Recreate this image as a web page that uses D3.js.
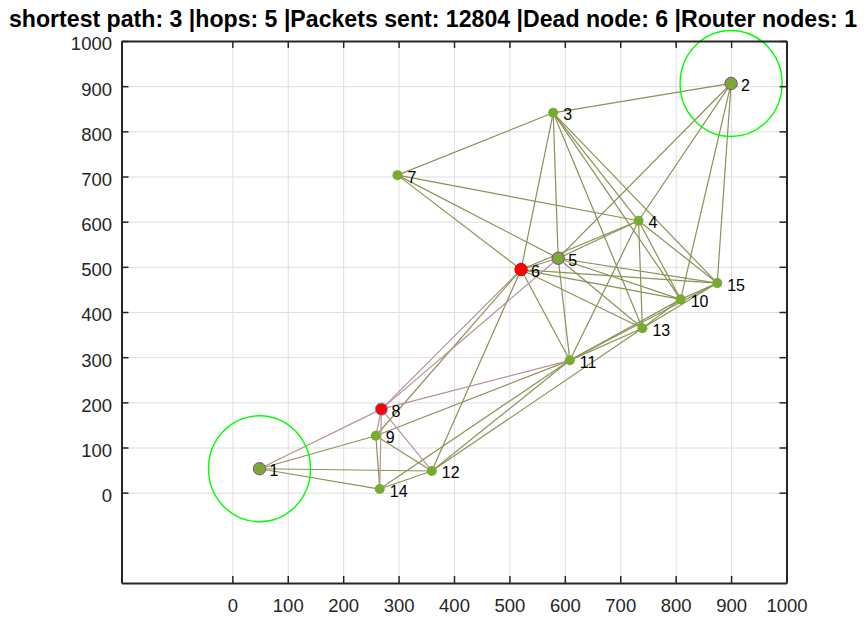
<!DOCTYPE html>
<html>
<head>
<meta charset="utf-8">
<script src="https://cdn.jsdelivr.net/npm/d3@7"></script>
<style>
    body { margin: 0; background: #fff; }
    text { font-family: "Liberation Sans", Arial, sans-serif; }
</style>
</head>
<body>
<div id="chart"></div>
<script>
// data
var nodeIds = [1, 2, 3, 4, 5, 6, 7, 8, 9, 10, 11, 12, 13, 14, 15];
var nodeX = [49, 900, 579, 733, 588, 521, 298, 269, 259, 809, 609, 360, 740, 266, 875];
var nodeY = [53, 906, 841, 602, 519, 494, 703, 185, 126, 428, 293, 48, 364, 8, 464];

// links between nodes (from, to)
var edgeFrom = [1, 1, 1, 1, 2, 2, 2, 2, 2, 3, 3, 3, 3, 3, 3, 3, 4, 4, 4, 4, 4, 4, 4,
                5, 5, 5, 5, 5, 5, 5, 6, 6, 6, 6, 6, 6, 6, 6, 8, 8, 8, 8, 9, 9, 9,
                10, 10, 10, 11, 11, 11, 11, 12, 12, 13];
var edgeTo   = [8, 9, 12, 14, 3, 4, 5, 10, 15, 4, 5, 6, 7, 10, 13, 15, 5, 6, 7, 10, 11, 13, 15,
                6, 7, 8, 10, 11, 13, 15, 7, 8, 9, 10, 11, 12, 13, 15, 9, 11, 12, 14, 11, 12, 14,
                11, 13, 15, 12, 13, 14, 15, 13, 14, 15];

var deadNodes = [6, 8];
var bigNodes = [1, 2, 5];
var ringNodes = [1, 2];

var xTicks = [0, 100, 200, 300, 400, 500, 600, 700, 800, 900, 1000];
var yTicks = [0, 100, 200, 300, 400, 500, 600, 700, 800, 900, 1000];

var titleText = 'shortest path: 3 |hops: 5 |Packets sent: 12804 |Dead node: 6 |Router nodes: 1';

// layout
var W = 867, H = 617;
var plotLeft = 121.5, plotRight = 786.5, plotTop = 41, plotBottom = 583;

var svg = d3.select('#chart')
    .append('svg')
        .attr('width', W)
        .attr('height', H);

svg.append('rect')
    .attr('width', W)
    .attr('height', H)
    .attr('fill', '#fff');

var x = d3.scaleLinear().domain([-200, 1000]).range([plotLeft, plotRight]);
var y = d3.scaleLinear().domain([-200, 1000]).range([plotBottom, plotTop]);

var pos = function(id) {
    var i = nodeIds.indexOf(id);
    return [x(nodeX[i]), y(nodeY[i])];
}

// grid
var grid = svg.append('g').attr('class', 'grid');

grid.append('g')
    .attr('transform', 'translate(0,' + plotBottom + ')')
    .call(d3.axisBottom(x).tickValues(xTicks).tickSize(-(plotBottom - plotTop)).tickFormat(''))
    .call(g => g.select('.domain').remove());

grid.append('g')
    .attr('transform', 'translate(' + plotLeft + ',0)')
    .call(d3.axisLeft(y).tickValues(yTicks).tickSize(-(plotRight - plotLeft)).tickFormat(''))
    .call(g => g.select('.domain').remove());

grid.selectAll('line')
    .attr('stroke', '#dedede')
    .attr('stroke-width', 1);

// edges
var edges = edgeFrom.map((f, i) => ({ a: f, b: edgeTo[i] }));
var isPath = d => d.a === 8 || d.b === 8;

svg.append('g')
    .selectAll('line')
    .data(edges.filter(d => !isPath(d)).concat(edges.filter(isPath)))
    .enter()
    .append('line')
        .attr('x1', d => pos(d.a)[0])
        .attr('y1', d => pos(d.a)[1])
        .attr('x2', d => pos(d.b)[0])
        .attr('y2', d => pos(d.b)[1])
        .attr('stroke', d => isPath(d) ? '#b39696' : '#8c9157')
        .attr('stroke-width', 1.2);

// range rings
svg.append('g')
    .selectAll('ellipse')
    .data(ringNodes)
    .enter()
    .append('ellipse')
        .attr('cx', d => pos(d)[0])
        .attr('cy', d => pos(d)[1])
        .attr('rx', 51)
        .attr('ry', 53)
        .attr('fill', 'none')
        .attr('stroke', '#00ff00')
        .attr('stroke-width', 1.4);

// nodes
svg.append('g')
    .selectAll('circle')
    .data(nodeIds)
    .enter()
    .append('circle')
        .attr('cx', d => pos(d)[0])
        .attr('cy', d => pos(d)[1])
        .attr('r', d => (bigNodes.includes(d) || deadNodes.includes(d)) ? 6.2 : 5)
        .attr('fill', d => deadNodes.includes(d) ? '#ff0000' : '#77ac30')
        .attr('stroke', d => d === 8 ? '#5fa8e0' : d === 6 ? '#e00000' : bigNodes.includes(d) ? '#8e3fa0' : 'none')
        .attr('stroke-width', 1);

// node labels
svg.append('g')
    .selectAll('text')
    .data(nodeIds)
    .enter()
    .append('text')
        .attr('x', d => pos(d)[0] + 10)
        .attr('y', d => pos(d)[1] + 2)
        .attr('dominant-baseline', 'central')
        .attr('font-size', '16px')
        .attr('fill', '#000')
        .text(d => d);

// axes (box with inner ticks)
var axisColor = '#262626';
var fmt = d3.format('d');

var xAxis = svg.append('g')
    .attr('transform', 'translate(0,' + plotBottom + ')')
    .call(d3.axisBottom(x).tickValues(xTicks).tickFormat(fmt).tickSizeInner(-7).tickSizeOuter(0).tickPadding(16));

var yAxis = svg.append('g')
    .attr('transform', 'translate(' + plotLeft + ',0)')
    .call(d3.axisLeft(y).tickValues(yTicks).tickFormat(fmt).tickSizeInner(-7).tickSizeOuter(0).tickPadding(9.5));

var xTop = svg.append('g')
    .attr('transform', 'translate(0,' + plotTop + ')')
    .call(d3.axisTop(x).tickValues(xTicks).tickSizeInner(-7).tickSizeOuter(0).tickFormat(''));

var yRight = svg.append('g')
    .attr('transform', 'translate(' + plotRight + ',0)')
    .call(d3.axisRight(y).tickValues(yTicks).tickSizeInner(-7).tickSizeOuter(0).tickFormat(''));

[xAxis, yAxis, xTop, yRight].forEach(g => {
    g.select('.domain').attr('stroke', axisColor).attr('stroke-width', 2);
    g.selectAll('.tick line').attr('stroke', axisColor).attr('stroke-width', 1.5);
    g.selectAll('text')
        .attr('fill', axisColor)
        .style('font-size', '18.5px')
        .style('font-family', '"Liberation Sans", Arial, sans-serif');
});

yAxis.selectAll('text').attr('dy', '0.48em');

// title
svg.append('text')
    .attr('x', 433)
    .attr('y', 27)
    .attr('text-anchor', 'middle')
    .attr('font-size', '23px')
    .attr('font-weight', 'bold')
    .attr('fill', '#000')
    .attr('textLength', 848)
    .attr('lengthAdjust', 'spacingAndGlyphs')
    .text(titleText);
</script>
</body>
</html>
